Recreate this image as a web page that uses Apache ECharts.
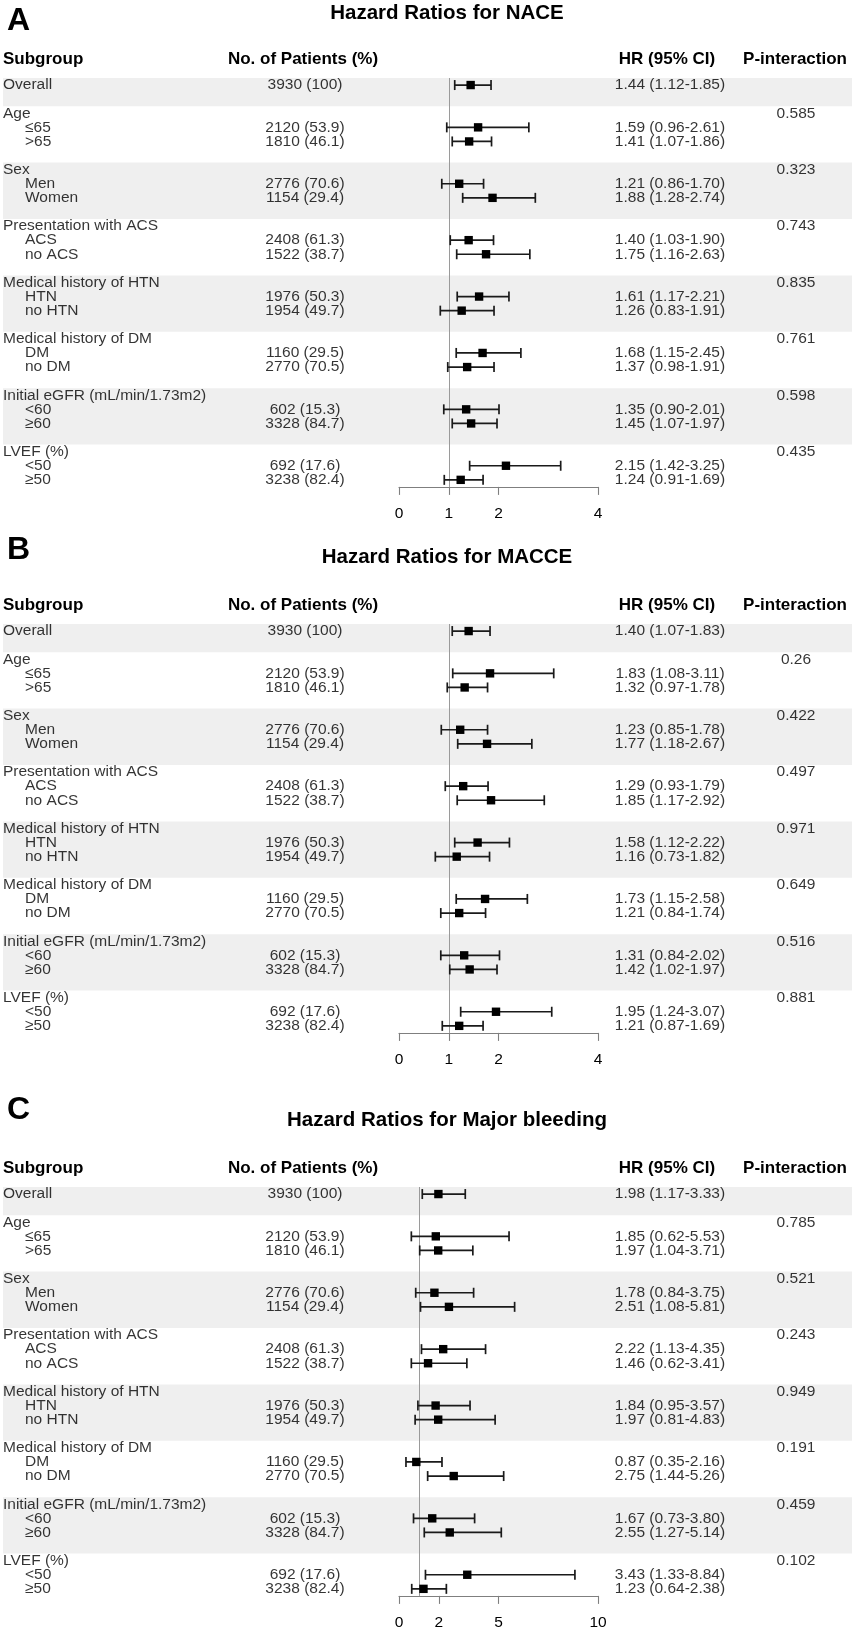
<!DOCTYPE html>
<html><head><meta charset="utf-8">
<script src="https://cdn.jsdelivr.net/npm/echarts@6/dist/echarts.min.js"></script>
<style>html,body{margin:0;padding:0;background:#fff}#c{width:855px;height:1632px}</style>
</head><body><div id="c"></div>
<script>
// ---------- data ----------
const panelLetters = ['A', 'B', 'C'];
const panelTitles = ['Hazard Ratios for NACE', 'Hazard Ratios for MACCE', 'Hazard Ratios for Major bleeding'];
const groupNames = ['Age', 'Sex', 'Presentation with ACS', 'Medical history of HTN', 'Medical history of DM', 'Initial eGFR (mL/min/1.73m2)', 'LVEF (%)'];
const subgroupNames = [['≤65', '>65'], ['Men', 'Women'], ['ACS', 'no ACS'], ['HTN', 'no HTN'], ['DM', 'no DM'], ['<60', '≥60'], ['<50', '≥50']];
// overall first, then the 14 subgroups in order
const patientN = [3930, 2120, 1810, 2776, 1154, 2408, 1522, 1976, 1954, 1160, 2770, 602, 3328, 692, 3238];
const patientPct = [100, 53.9, 46.1, 70.6, 29.4, 61.3, 38.7, 50.3, 49.7, 29.5, 70.5, 15.3, 84.7, 17.6, 82.4];

const hrNACE = [1.44, 1.59, 1.41, 1.21, 1.88, 1.40, 1.75, 1.61, 1.26, 1.68, 1.37, 1.35, 1.45, 2.15, 1.24];
const loNACE = [1.12, 0.96, 1.07, 0.86, 1.28, 1.03, 1.16, 1.17, 0.83, 1.15, 0.98, 0.90, 1.07, 1.42, 0.91];
const hiNACE = [1.85, 2.61, 1.86, 1.70, 2.74, 1.90, 2.63, 2.21, 1.91, 2.45, 1.91, 2.01, 1.97, 3.25, 1.69];
const pNACE = ['0.585', '0.323', '0.743', '0.835', '0.761', '0.598', '0.435'];

const hrMACCE = [1.40, 1.83, 1.32, 1.23, 1.77, 1.29, 1.85, 1.58, 1.16, 1.73, 1.21, 1.31, 1.42, 1.95, 1.21];
const loMACCE = [1.07, 1.08, 0.97, 0.85, 1.18, 0.93, 1.17, 1.12, 0.73, 1.15, 0.84, 0.84, 1.02, 1.24, 0.87];
const hiMACCE = [1.83, 3.11, 1.78, 1.78, 2.67, 1.79, 2.92, 2.22, 1.82, 2.58, 1.74, 2.02, 1.97, 3.07, 1.69];
const pMACCE = ['0.26', '0.422', '0.497', '0.971', '0.649', '0.516', '0.881'];

const hrBleed = [1.98, 1.85, 1.97, 1.78, 2.51, 2.22, 1.46, 1.84, 1.97, 0.87, 2.75, 1.67, 2.55, 3.43, 1.23];
const loBleed = [1.17, 0.62, 1.04, 0.84, 1.08, 1.13, 0.62, 0.95, 0.81, 0.35, 1.44, 0.73, 1.27, 1.33, 0.64];
const hiBleed = [3.33, 5.53, 3.71, 3.75, 5.81, 4.35, 3.41, 3.57, 4.83, 2.16, 5.26, 3.80, 5.14, 8.84, 2.38];
const pBleed = ['0.785', '0.521', '0.243', '0.949', '0.191', '0.459', '0.102'];

const ticksAB = [0, 1, 2, 4];
const ticksC = [0, 2, 5, 10];

// ---------- layout ----------
const FONT = 'Liberation Sans, Arial, Helvetica, sans-serif';
const headerY = [59, 605, 1168];
const titleY = [13, 557, 1120];
const letterY = [21, 550, 1110];
const LINE_PX = 14.1;
const Y_MIN = -0.5, Y_MAX = 28.5;
const COL_SUB = 3, COL_IND = 25, COL_N = 305, COL_HR = 670, COL_P = 796;
const panels = [
  {hr: hrNACE, lo: loNACE, hi: hiNACE, p: pNACE, max: 4, ticks: ticksAB},
  {hr: hrMACCE, lo: loMACCE, hi: hiMACCE, p: pMACCE, max: 4, ticks: ticksAB},
  {hr: hrBleed, lo: loBleed, hi: hiBleed, p: pBleed, max: 10, ticks: ticksC}
];

function lineOf(i) { // row index (0 overall) -> text line index
  if (i === 0) return 0;
  const g = Math.floor((i - 1) / 2), s = (i - 1) % 2;
  return 3 + 4 * g + s;
}

const grid = [], xAxis = [], yAxis = [], series = [], graphic = [];
const bodyLabel = {show: true, position: 'inside', verticalAlign: 'middle', color: '#000', fontSize: 15.5, fontFamily: FONT};

panels.forEach((P, k) => {
  const H = headerY[k];
  const top = H + 19, height = (Y_MAX - Y_MIN) * LINE_PX;
  const gT = grid.length;
  grid.push({left: 0, top: top, width: 855, height: height});
  xAxis.push({gridIndex: gT, type: 'value', min: 0, max: 855, show: false});
  yAxis.push({gridIndex: gT, type: 'value', min: Y_MIN, max: Y_MAX, inverse: true, show: false});
  const gF = grid.length;
  grid.push({left: 399, top: top, width: 199, height: height});
  xAxis.push({
    gridIndex: gF, type: 'value', min: 0, max: P.max, position: 'bottom', z: 20,
    axisLine: {show: true, onZero: false, lineStyle: {color: '#7f7f7f', width: 1.1}},
    axisTick: {show: true, customValues: P.ticks, length: 8, lineStyle: {color: '#7f7f7f', width: 1.1}},
    axisLabel: {show: true, customValues: P.ticks, margin: 19, color: '#000', fontSize: 15.5, fontFamily: FONT},
    splitLine: {show: false}
  });
  yAxis.push({gridIndex: gF, type: 'value', min: Y_MIN, max: Y_MAX, inverse: true, show: false});

  // shaded bands: overall + every other group
  const bands = [[{xAxis: 3, yAxis: -0.5}, {xAxis: 852, yAxis: 1.5}]];
  [1, 3, 5].forEach(g => bands.push([{xAxis: 3, yAxis: 1.5 + 4 * g}, {xAxis: 852, yAxis: 5.5 + 4 * g}]));
  series.push({
    type: 'scatter', xAxisIndex: gT, yAxisIndex: gT, data: [], z: 0, silent: true,
    markArea: {silent: true, itemStyle: {color: '#efefef'}, data: bands}
  });

  // text rows
  const texts = [];
  texts.push({value: [COL_SUB, 0], t: 'Overall', a: 'left'});
  groupNames.forEach((g, gi) => {
    texts.push({value: [COL_SUB, 2 + 4 * gi], t: g, a: 'left'});
    texts.push({value: [COL_P, 2 + 4 * gi], t: P.p[gi], a: 'center'});
    subgroupNames[gi].forEach((s, si) => texts.push({value: [COL_IND, 3 + 4 * gi + si], t: s, a: 'left'}));
  });
  patientN.forEach((n, i) => {
    texts.push({value: [COL_N, lineOf(i)], t: n + ' (' + patientPct[i] + ')', a: 'center'});
    texts.push({value: [COL_HR, lineOf(i)], t: P.hr[i].toFixed(2) + ' (' + P.lo[i].toFixed(2) + '-' + P.hi[i].toFixed(2) + ')', a: 'center'});
  });
  series.push({
    type: 'scatter', xAxisIndex: gT, yAxisIndex: gT, symbolSize: 0, silent: true, z: 5, clip: false,
    data: texts.map(d => ({value: d.value, t: d.t, label: {align: d.a}})),
    label: Object.assign({}, bodyLabel, {formatter: p => p.data.t})
  });

  // forest CI marks
  series.push({
    type: 'custom', xAxisIndex: gF, yAxisIndex: gF, z: 10, silent: true,
    encode: {x: [0, 1, 2], y: 3},
    data: P.hr.map((h, i) => [h, P.lo[i], P.hi[i], lineOf(i)]),
    renderItem: (params, api) => {
      const ln = api.value(3);
      const pL = api.coord([api.value(1), ln]);
      const pH = api.coord([api.value(2), ln]);
      const pC = api.coord([api.value(0), ln]);
      const st = {stroke: '#1a1a1a', lineWidth: 1.7};
      const cap = 5, box = 4.2;
      return {type: 'group', children: [
        {type: 'line', shape: {x1: pL[0], y1: pL[1], x2: pH[0], y2: pH[1]}, style: st},
        {type: 'line', shape: {x1: pL[0], y1: pL[1] - cap, x2: pL[0], y2: pL[1] + cap}, style: st},
        {type: 'line', shape: {x1: pH[0], y1: pH[1] - cap, x2: pH[0], y2: pH[1] + cap}, style: st},
        {type: 'rect', shape: {x: pC[0] - box, y: pC[1] - box, width: 2 * box, height: 2 * box}, style: {fill: '#000'}}
      ]};
    },
    markLine: {
      silent: true, symbol: 'none', animation: false,
      label: {show: false},
      lineStyle: {color: '#9a9a9a', width: 1, type: 'solid'},
      data: [{xAxis: 1}]
    }
  });

  // static texts
  graphic.push({type: 'text', x: 7, y: letterY[k], style: {text: panelLetters[k], font: 'bold 32px ' + FONT, fill: '#000', align: 'left', verticalAlign: 'middle'}});
  graphic.push({type: 'text', x: 447, y: titleY[k], style: {text: panelTitles[k], font: 'bold 20.5px ' + FONT, fill: '#000', align: 'center', verticalAlign: 'middle'}});
  const hdr = [['Subgroup', 3, 'left'], ['No. of Patients (%)', 303, 'center'], ['HR (95% CI)', 667, 'center'], ['P-interaction', 795, 'center']];
  hdr.forEach(h => graphic.push({type: 'text', x: h[1], y: H, style: {text: h[0], font: 'bold 17px ' + FONT, fill: '#000', align: h[2], verticalAlign: 'middle'}}));
});

const chart = echarts.init(document.getElementById('c'), null, {renderer: 'canvas'});
chart.setOption({animation: false, backgroundColor: '#fff', grid, xAxis, yAxis, series, graphic});
</script></body></html>
